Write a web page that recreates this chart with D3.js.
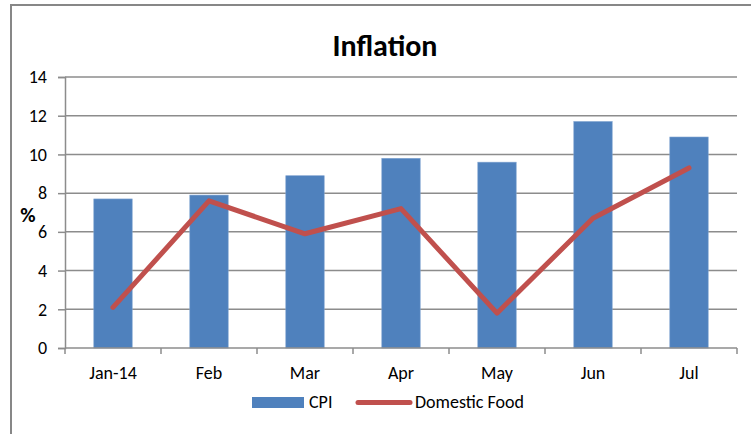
<!DOCTYPE html>
<html>
<head>
<meta charset="utf-8">
<script src="https://cdn.jsdelivr.net/npm/d3@7"></script>
<style>
  html, body { margin: 0; padding: 0; background: #fff; }
  svg { display: block; }
  text { font-family: Carlito, Lato, "Liberation Sans", sans-serif; fill: #000; }
</style>
</head>
<body>
<svg id="chart" width="751" height="434"></svg>
<script>
const categories = ["Jan-14", "Feb", "Mar", "Apr", "May", "Jun", "Jul"];
const cpiValues = [7.7, 7.9, 8.9, 9.8, 9.6, 11.7, 10.9];
const foodValues = [2.1, 7.6, 5.9, 7.2, 1.8, 6.7, 9.3];
const yTicks = [0, 2, 4, 6, 8, 10, 12, 14];
const seriesNames = ["CPI", "Domestic Food"];
const title = "Inflation";
const yLabel = "%";

(function () {
const svg = d3.select("#chart");
const W = 751, H = 434;
const pLeft = 65, pRight = 737, pTop = 77, pBottom = 348;
const FS = 18;

// outer frame
svg.append("path")
  .attr("d", `M11,${H} L11,5 L${W},5`)
  .attr("fill", "none").attr("stroke", "#878787").attr("stroke-width", 2);

const x = d3.scaleBand().domain(categories).range([pLeft, pRight]).paddingInner(0.6).paddingOuter(0.3);
const xc = d3.scalePoint().domain(categories).range([pLeft, pRight]).padding(0.5);
const y = d3.scaleLinear().domain([0, 14]).range([pBottom, pTop]);

// gridlines
svg.append("g").selectAll("line").data(yTicks.filter(d => d > 0)).join("line")
  .attr("x1", pLeft).attr("x2", pRight)
  .attr("y1", d => y(d)).attr("y2", d => y(d))
  .attr("stroke", "#8c8c8c").attr("stroke-width", 1.5);

// bars
svg.append("g").selectAll("rect").data(cpiValues).join("rect")
  .attr("x", (d, i) => x(categories[i]))
  .attr("width", x.bandwidth())
  .attr("y", d => y(d))
  .attr("height", d => y(0) - y(d))
  .attr("fill", "#4F81BD")
  .attr("stroke", "#7fa3d0").attr("stroke-width", 0.6);

// y axis
const yAxis = d3.axisLeft(y).tickValues(yTicks).tickSize(7).tickPadding(11).tickFormat(d3.format("d"));
const gy = svg.append("g").attr("transform", `translate(${pLeft},0)`).call(yAxis);
gy.select(".domain").attr("stroke", "#8c8c8c").attr("stroke-width", 1.5);
gy.selectAll(".tick line").attr("stroke", "#8c8c8c").attr("stroke-width", 1.5);
gy.selectAll(".tick text").attr("font-size", FS).attr("font-family", "Carlito, Lato, 'Liberation Sans', sans-serif").attr("fill", "#000");

// x axis with ticks on category boundaries
const boundaries = d3.range(categories.length + 1).map(i => pLeft + i * (pRight - pLeft) / categories.length);
const gx = svg.append("g");
gx.append("line").attr("x1", pLeft).attr("x2", pRight).attr("y1", pBottom).attr("y2", pBottom)
  .attr("stroke", "#8c8c8c").attr("stroke-width", 1.5);
gx.selectAll("line.tk").data(boundaries).join("line").attr("class", "tk")
  .attr("x1", d => d).attr("x2", d => d).attr("y1", pBottom).attr("y2", pBottom + 6)
  .attr("stroke", "#8c8c8c").attr("stroke-width", 1.5);
gx.selectAll("text").data(categories).join("text")
  .attr("x", d => xc(d)).attr("y", pBottom + 31)
  .attr("text-anchor", "middle").attr("font-size", FS).text(d => d);

// line
const line = d3.line().x((d, i) => xc(categories[i])).y(d => y(d));
svg.append("path").datum(foodValues)
  .attr("d", line).attr("fill", "none")
  .attr("stroke", "#C0504D").attr("stroke-width", 5)
  .attr("stroke-linejoin", "round").attr("stroke-linecap", "round");

// title
svg.append("text").attr("x", 385).attr("y", 56).attr("text-anchor", "middle")
  .attr("font-size", 30).attr("font-weight", "bold").text(title);

// y label
svg.append("text").attr("x", 28).attr("y", 222).attr("text-anchor", "middle")
  .attr("font-size", 21).attr("font-weight", "bold").text(yLabel);

// legend
const lg = svg.append("g");
lg.append("rect").attr("x", 252).attr("y", 397).attr("width", 52).attr("height", 11).attr("fill", "#4F81BD");
lg.append("text").attr("x", 309).attr("y", 408).attr("font-size", FS).text(seriesNames[0]);
lg.append("line").attr("x1", 358).attr("x2", 410).attr("y1", 402.5).attr("y2", 402.5)
  .attr("stroke", "#C0504D").attr("stroke-width", 5).attr("stroke-linecap", "round");
lg.append("text").attr("x", 415).attr("y", 408).attr("font-size", FS).text(seriesNames[1]);
})();
</script>
</body>
</html>
